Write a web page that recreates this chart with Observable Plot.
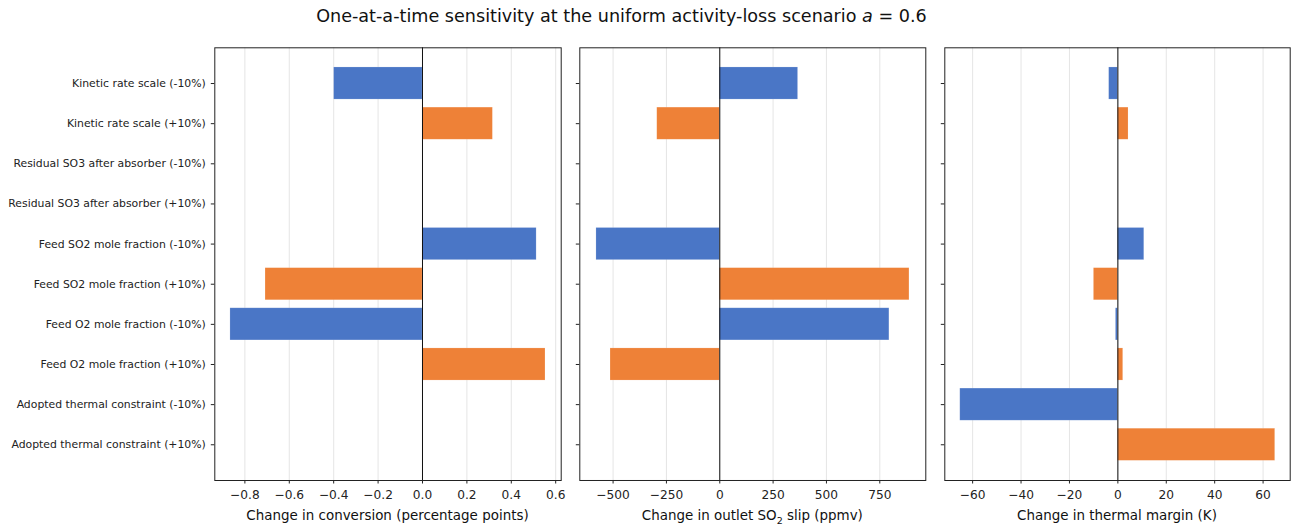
<!DOCTYPE html>
<html>
<head>
<meta charset="utf-8">
<script src="https://cdn.jsdelivr.net/npm/d3@7"></script>
<script src="https://cdn.jsdelivr.net/npm/@observablehq/plot@0.6"></script>
<style>
  body { margin: 0; background: white; font-family: "DejaVu Sans", sans-serif; }
  #wrap { position: relative; width: 1300px; height: 532px; overflow: hidden; }
  #title { position: absolute; top: 6px; left: 0; width: 1243px; text-align: center; font-size: 17.6px; color: #111; }
  .panel { position: absolute; top: 0; }
</style>
</head>
<body>
<div id="wrap">
  <div id="title">One-at-a-time sensitivity at the uniform activity-loss scenario <i>a</i> = 0.6</div>
</div>
<script>
const labels = [
  "Kinetic rate scale (-10%)",
  "Kinetic rate scale (+10%)",
  "Residual SO3 after absorber (-10%)",
  "Residual SO3 after absorber (+10%)",
  "Feed SO2 mole fraction (-10%)",
  "Feed SO2 mole fraction (+10%)",
  "Feed O2 mole fraction (-10%)",
  "Feed O2 mole fraction (+10%)",
  "Adopted thermal constraint (-10%)",
  "Adopted thermal constraint (+10%)"
];
const direction = ["-10%", "+10%", "-10%", "+10%", "-10%", "+10%", "-10%", "+10%", "-10%", "+10%"];
const conversionChange = [-0.398, 0.317, 0, 0, 0.514, -0.707, -0.865, 0.554, 0, 0];
const slipChange = [367, -293, 0, 0, -578, 889, 795, -512, 0, 0];
const marginChange = [-3.6, 4.4, 0, 0, 10.9, -9.9, -0.8, 2.2, -65.1, 65.0];

const ticksConversion = [-0.8, -0.6, -0.4, -0.2, 0.0, 0.2, 0.4, 0.6];
const ticksSlip = [-500, -250, 0, 250, 500, 750];
const ticksMargin = [-60, -40, -20, 0, 20, 40, 60];

const colors = { "-10%": "#4472C4", "+10%": "#ED7D31" };

function panel({values, ticks, fmt, domain, label, left, width, marginLeft, marginRight, showLabels}) {
  const data = labels.map((l, i) => ({label: l, dir: direction[i], v: values[i]}));
  const chart = Plot.plot({
    width, height: 532,
    marginTop: 47.3, marginBottom: 52, marginLeft, marginRight,
    style: { fontFamily: "DejaVu Sans", fontSize: "12px", background: "transparent", color: "#222" },
    x: { domain },
    y: { type: "band", domain: labels, paddingInner: 0.2, paddingOuter: 0.49, align: 0.5, round: false },
    color: { domain: ["-10%", "+10%"], range: [colors["-10%"], colors["+10%"]] },
    marks: [
      Plot.gridX(ticks, { stroke: "#e2e2e2", strokeOpacity: 1, strokeWidth: 0.9 }),
      Plot.barX(data, { y: "label", x1: 0, x2: "v", fill: "dir", fillOpacity: 0.97, stroke: "white", strokeOpacity: 0.25, strokeWidth: 0.6 }),
      Plot.ruleX([0], { stroke: "#111", strokeWidth: 1 }),
      Plot.axisX({ ticks, tickFormat: fmt, tickSize: 3.5, tickPadding: 6.5, fontSize: 12.2, label: null }),
      Plot.axisY({ tickSize: 3.5, tickPadding: 5.5, fontSize: 10.85, tickFormat: showLabels ? (d => d) : (() => ""), label: null }),
      Plot.frame({ stroke: "#222", strokeWidth: 1 })
    ]
  });
  chart.classList.add("panel");
  chart.style.left = left + "px";
  chart.style.overflow = "visible";
  document.getElementById("wrap").appendChild(chart);
  const lab = document.createElement("div");
  lab.innerHTML = label;
  Object.assign(lab.style, {
    position: "absolute", top: "508px", left: (left + marginLeft) + "px",
    width: (width - marginLeft - marginRight) + "px", textAlign: "center",
    fontSize: "13.45px", color: "#111", fontFamily: "DejaVu Sans"
  });
  document.getElementById("wrap").appendChild(lab);
}

panel({ values: conversionChange, ticks: ticksConversion, fmt: d3.format(".1f"),
  domain: [-0.9355, 0.6248], label: "Change in conversion (percentage points)",
  left: 0, width: 568, marginLeft: 214.3, marginRight: 7.3, showLabels: true });
panel({ values: slipChange, ticks: ticksSlip, fmt: d3.format("d"),
  domain: [-656, 965.6], label: "Change in outlet SO<sub style='font-size:9.5px;line-height:0'>2</sub> slip (ppmv)",
  left: 568, width: 364.6, marginLeft: 11.3, marginRight: 7.3, showLabels: false });
panel({ values: marginChange, ticks: ticksMargin, fmt: d3.format("d"),
  domain: [-71.5, 71.2], label: "Change in thermal margin (K)",
  left: 933, width: 367, marginLeft: 11.3, marginRight: 10.3, showLabels: false });
</script>
</body>
</html>
